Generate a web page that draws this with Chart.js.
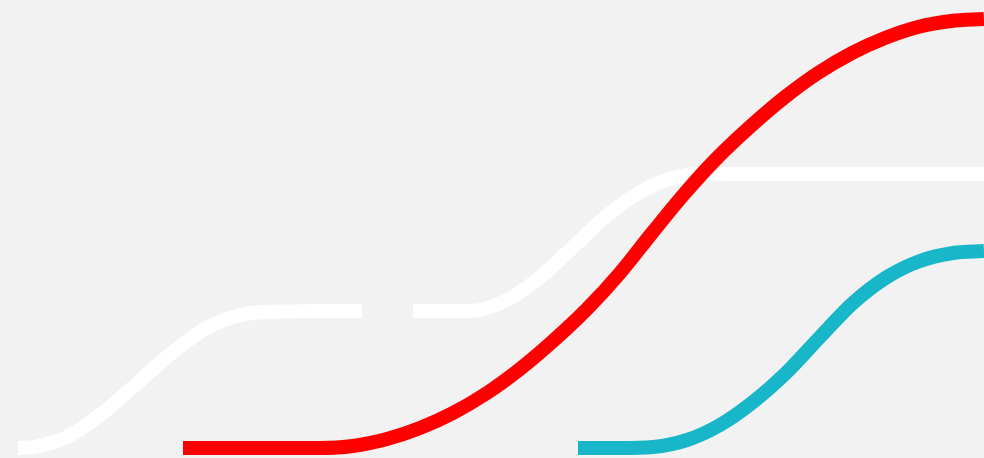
<!DOCTYPE html>
<html lang="en">

<head>
    <meta charset="UTF-8">
    <title>Curves</title>
    <script src="https://cdn.jsdelivr.net/npm/chart.js"></script>
    <style>
        html, body {
            margin: 0;
            padding: 0;
            background: #f2f2f2;
        }
        .chart-container {
            width: 984px;
            height: 458px;
        }
    </style>
</head>

<body>
    <div class="chart-container">
        <canvas id="curveChart"></canvas>
    </div>

    <script>
        // values (x along, y height above bottom)
        const redX = [183, 320, 353, 387, 420, 453, 487, 520, 553, 587, 620, 652, 685, 718, 752, 785, 818, 852, 885, 918, 951, 984];
        const redY = [10, 10, 12, 19, 30, 45, 65, 89, 117, 149, 185, 225, 265, 301, 333, 361, 385, 405, 420, 431, 437, 439];

        const tealX = [578, 620, 653, 687, 720, 753, 787, 820, 853, 887, 920, 953, 984];
        const tealY = [10, 10, 11, 18, 33, 56, 86, 121, 155, 181, 197, 205, 207];

        // white line has a break between 362 and 413
        const whiteX = [18, 33, 67, 100, 133, 167, 200, 233, 267, 362, 388, 413, 470, 503, 537, 570, 603, 637, 670, 703, 984];
        const whiteY = [10, 11, 21, 43, 71, 101, 126, 141, 146, 147, null, 147, 147, 156, 178, 208, 239, 264, 279, 284, 284];

        function toPoints(xs, ys) {
            return xs.map((x, i) => ({ x: x, y: ys[i] }));
        }

        function series(xs, ys, color) {
            return {
                data: toPoints(xs, ys),
                borderColor: color,
                borderWidth: 14,
                borderCapStyle: 'butt',
                cubicInterpolationMode: 'monotone',
                pointRadius: 0,
                fill: false,
                spanGaps: false
            };
        }

        const ctx = document.getElementById('curveChart').getContext('2d');
        const chart = new Chart(ctx, {
            type: 'line',
            data: {
                datasets: [
                    series(redX, redY, '#ff0000'),   // first one is drawn on top
                    series(tealX, tealY, '#17b6c8'),
                    series(whiteX, whiteY, '#ffffff')
                ]
            },
            options: {
                responsive: true,
                maintainAspectRatio: false,
                animation: false,
                layout: { padding: 0 },
                scales: {
                    x: { type: 'linear', min: 0, max: 984, display: false },
                    y: { type: 'linear', min: 0, max: 458, display: false }
                },
                plugins: {
                    legend: { display: false },
                    tooltip: { enabled: false }
                }
            }
        });
    </script>
</body>

</html>
